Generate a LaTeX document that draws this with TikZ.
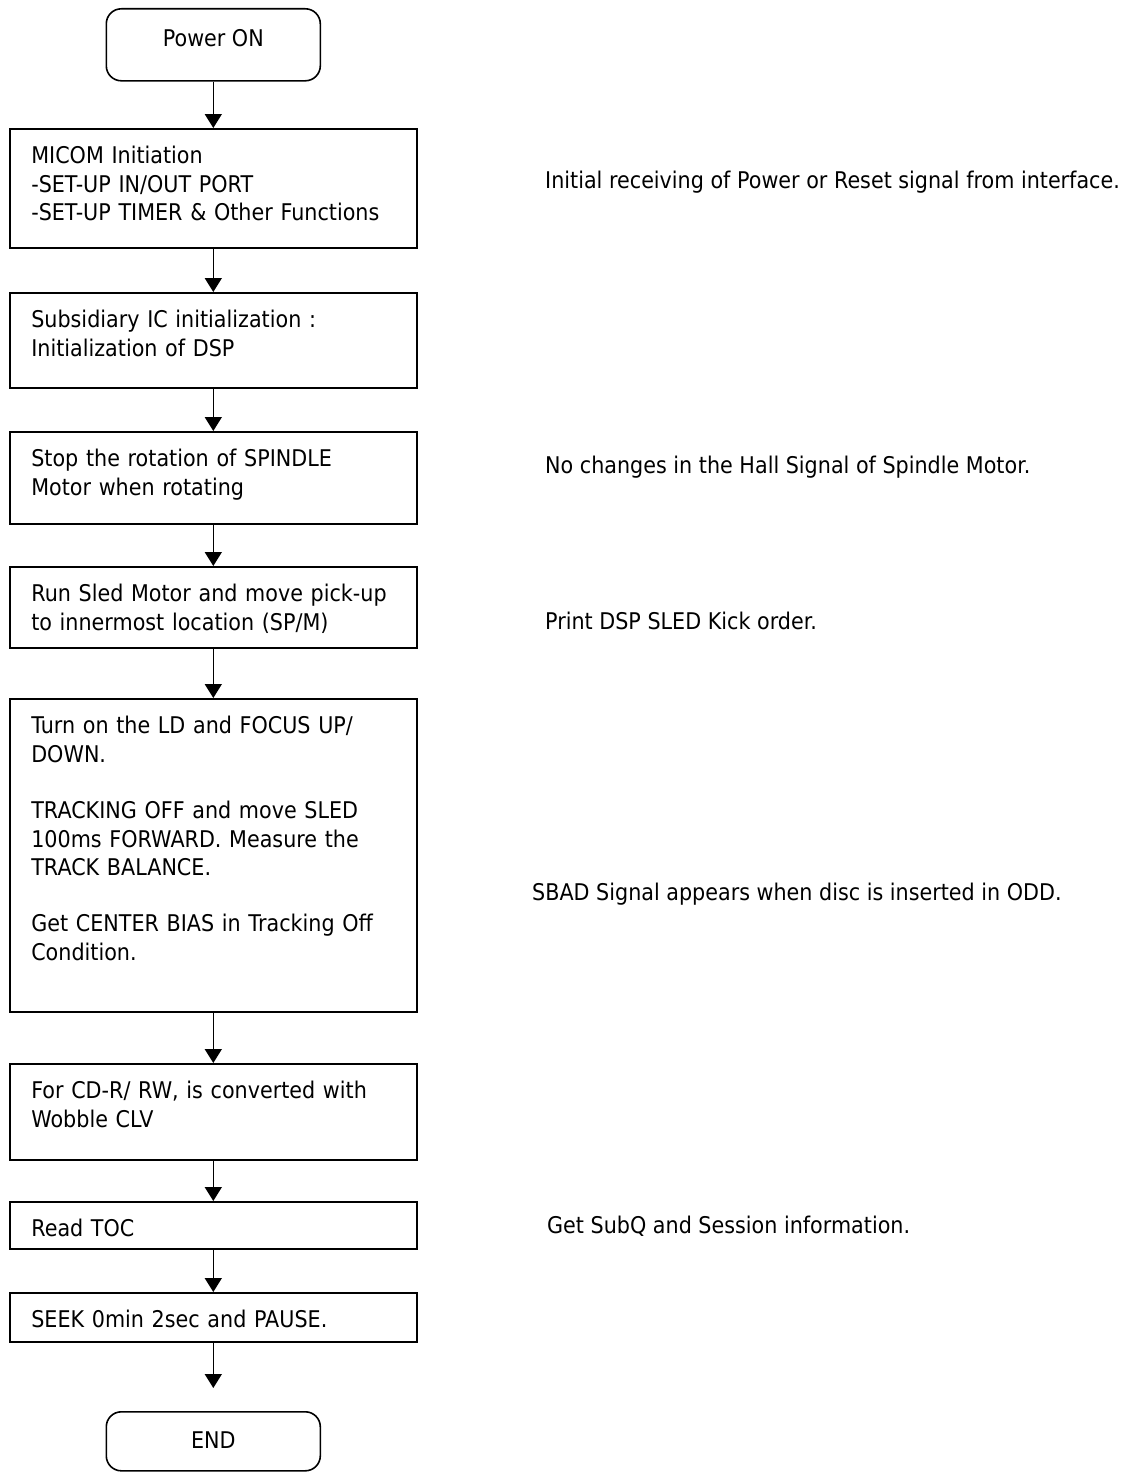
\documentclass[tikz,border=0pt]{standalone}
\usepackage{fontspec}
\setmainfont{DejaVu Sans}[FakeStretch=0.9]
\usetikzlibrary{arrows.meta}

\tikzset{
  stepbox/.style={draw, line width=1.6pt, rectangle, anchor=north west,
    inner xsep=21.5pt, inner ysep=0pt, text width=364pt, align=left, text height=35pt},
  termbox/.style={draw, line width=1.6pt, rectangle, rounded corners=15pt,
    anchor=north west, minimum width=214pt, inner sep=0pt, align=center},
  note/.style={anchor=base west, inner sep=0pt},
  flow/.style={line width=1.6pt, -{Triangle[width=17pt,length=14pt]}}
}

\begin{document}
\begin{tikzpicture}[x=1pt,y=-1pt,font=\fontsize{23pt}{28.3pt}\selectfont]
\useasboundingbox (0,0) rectangle (1133,1472);
\node[termbox, text height=38pt, text depth=34pt] (power) at (105.5,8) {Power ON};
\node[stepbox, text depth=84pt] (micom) at (9,128) {MICOM Initiation\\-SET-UP IN/OUT PORT\\-SET-UP TIMER \& Other Functions};
\node[stepbox, text depth=60pt] (subic) at (9,292) {Subsidiary IC initialization :\\Initialization of DSP};
\node[stepbox, text depth=57pt] (spindle) at (9,431) {Stop the rotation of SPINDLE\\Motor when rotating};
\node[stepbox, text depth=46pt] (sled) at (9,566) {Run Sled Motor and move pick-up\\to innermost location (SP/M)};
\node[stepbox, text depth=278pt] (focus) at (9,698) {Turn on the LD and FOCUS UP/\\DOWN.\\[28.3pt]TRACKING OFF and move SLED\\100ms FORWARD. Measure the\\TRACK BALANCE.\\[28.3pt]Get CENTER BIAS in Tracking Off\\Condition.};
\node[stepbox, text depth=61pt] (cdrw) at (9,1063) {For CD-R/ RW, is converted with\\Wobble CLV};
\node[stepbox, text depth=12pt] (toc) at (9,1201) {Read TOC};
\node[stepbox, text depth=14pt] (seek) at (9,1292) {SEEK 0min 2sec and PAUSE.};
\node[termbox, text height=37pt, text depth=22pt] (finish) at (105.5,1411) {END};
\node[note] (notepower) at (545,188) {Initial receiving of Power or Reset signal from interface.};
\node[note] (notespindle) at (545,473) {No changes in the Hall Signal of Spindle Motor.};
\node[note] (notesled) at (545,629) {Print DSP SLED Kick order.};
\node[note] (notesbad) at (532,900) {SBAD Signal appears when disc is inserted in ODD.};
\node[note] (notetoc) at (547,1233) {Get SubQ and Session information.};
\draw[flow] (power) -- (micom);
\draw[flow] (micom) -- (subic);
\draw[flow] (subic) -- (spindle);
\draw[flow] (spindle) -- (sled);
\draw[flow] (sled) -- (focus);
\draw[flow] (focus) -- (cdrw);
\draw[flow] (cdrw) -- (toc);
\draw[flow] (toc) -- (seek);
\draw[flow, shorten >=23pt] (seek) -- (finish);
\end{tikzpicture}
\end{document}
